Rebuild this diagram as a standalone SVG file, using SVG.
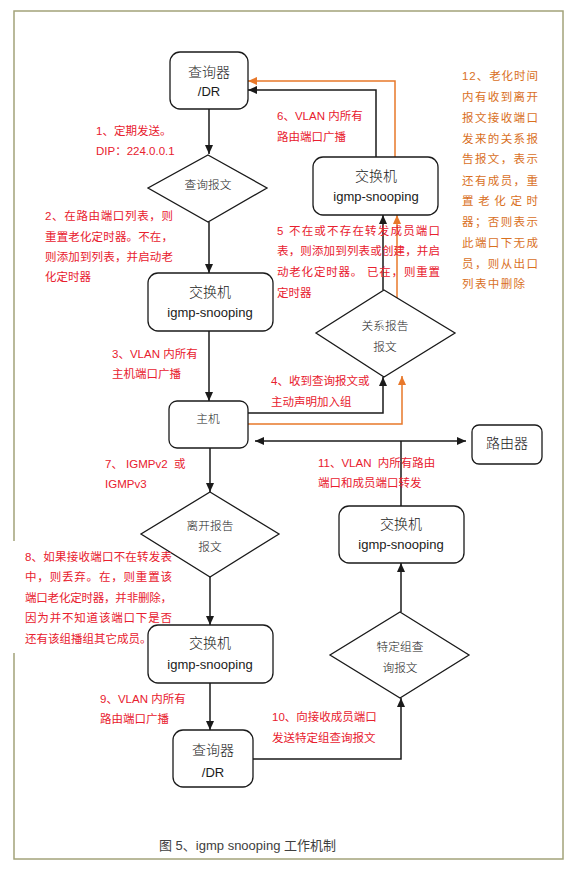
<svg xmlns="http://www.w3.org/2000/svg" width="573" height="869" viewBox="0 0 573 869">
<style>
.node rect{fill:#fff;stroke:#1a1a1a;stroke-width:1.3}
.node polygon{fill:#fff;stroke:#1a1a1a;stroke-width:1.3}
.nt{font-family:"Noto Sans CJK SC",sans-serif;font-size:14px;font-weight:300;fill:#1a1a1a;text-anchor:middle}
.nl{font-family:"Liberation Sans","Noto Sans CJK SC",sans-serif;font-size:13px;fill:#1a1a1a;text-anchor:middle}
.dt{font-family:"Noto Sans CJK SC",sans-serif;font-size:11.7px;font-weight:300;fill:#222;text-anchor:middle}
.lab{font-family:"Liberation Sans","Noto Sans CJK SC",sans-serif;font-size:11.5px;fill:#e8202e}
.or{font-family:"Liberation Sans","Noto Sans CJK SC",sans-serif;font-size:11.5px;fill:#d9701e}
.cap{font-family:"Liberation Sans","Noto Sans CJK SC",sans-serif;font-size:13px;fill:#404040}
.k{fill:none;stroke:#1a1a1a;stroke-width:1.5}
.o{fill:none;stroke:#e8782a;stroke-width:1.5}
</style>
<defs>
<marker id="ab" markerUnits="userSpaceOnUse" markerWidth="10" markerHeight="8" refX="9" refY="4" orient="auto-start-reverse"><path d="M0,0 L9,4 L0,8 z" fill="#1a1a1a"/></marker>
<marker id="ao" markerUnits="userSpaceOnUse" markerWidth="10" markerHeight="8" refX="9" refY="4" orient="auto"><path d="M0,0 L9,4 L0,8 z" fill="#e8782a"/></marker>
</defs>
<rect x="0" y="0" width="573" height="869" fill="#fff"/>
<rect id="frame" x="14" y="11" width="549" height="848" fill="none" stroke="#a3a37a" stroke-width="1.5"/>
<rect id="label8-bg" x="8" y="541" width="168" height="112" fill="#fff"/>

<g id="connectors">
<path class="k" d="M209,109 V154" marker-end="url(#ab)"/>
<path class="k" d="M209,222 V273" marker-end="url(#ab)"/>
<path class="k" d="M209,331 V401" marker-end="url(#ab)"/>
<path class="k" d="M248,413 H383 V377" marker-end="url(#ab)"/>
<path class="o" d="M248,424 H402 V376" marker-end="url(#ao)"/>
<path class="k" d="M383,290 V215" marker-end="url(#ab)"/>
<path class="o" d="M397,298 V215" marker-end="url(#ao)"/>
<path class="k" d="M376,157 V90 H248" marker-end="url(#ab)"/>
<path class="o" d="M395,157 V81 H248" marker-end="url(#ao)"/>
<path class="k" d="M255,441 H466" marker-start="url(#ab)" marker-end="url(#ab)"/>
<path class="k" d="M401,441 V506"/>
<path class="k" d="M401,612 V563" marker-end="url(#ab)"/>
<path class="k" d="M253,759 H401 V698" marker-end="url(#ab)"/>
<path class="k" d="M210,448 V492" marker-end="url(#ab)"/>
<path class="k" d="M210,577 V625" marker-end="url(#ab)"/>
<path class="k" d="M210,683 V730" marker-end="url(#ab)"/>
</g>

<g id="querier-top" class="node">
<rect x="170" y="52" width="78" height="57" rx="10"/>
<text class="nt" x="209" y="77">查询器</text>
<text class="nl" x="209" y="96" font-size="14">/DR</text>
</g>
<g id="query-msg" class="node">
<polygon points="208,155 267,188 208,222 148,188"/>
<text class="dt" x="208" y="189">查询报文</text>
</g>
<g id="switch-1" class="node">
<rect x="148" y="273" width="125" height="58" rx="10"/>
<text class="nt" x="210" y="297">交换机</text>
<text class="nl" x="210" y="317">igmp-snooping</text>
</g>
<g id="host" class="node">
<rect x="169" y="401" width="79" height="47" rx="8"/>
<text class="dt" x="208" y="423" font-size="12">主机</text>
</g>
<g id="report-msg" class="node">
<polygon points="384,290 455,333 384,377 316,333"/>
<text class="dt" x="385" y="330">关系报告</text>
<text class="dt" x="385" y="351">报文</text>
</g>
<g id="switch-2" class="node">
<rect x="313" y="157" width="125" height="58" rx="10"/>
<text class="nt" x="376" y="181">交换机</text>
<text class="nl" x="376" y="201">igmp-snooping</text>
</g>
<g id="router" class="node">
<rect x="472" y="425" width="70" height="39" rx="7"/>
<text class="nt" x="507" y="448">路由器</text>
</g>
<g id="leave-msg" class="node">
<polygon points="210,492 279,534 210,577 141,534"/>
<text class="dt" x="210" y="530">离开报告</text>
<text class="dt" x="210" y="551">报文</text>
</g>
<g id="switch-3" class="node">
<rect x="148" y="625" width="125" height="58" rx="10"/>
<text class="nt" x="210" y="648">交换机</text>
<text class="nl" x="210" y="669">igmp-snooping</text>
</g>
<g id="querier-bottom" class="node">
<rect x="173" y="730" width="80" height="57" rx="10"/>
<text class="nt" x="213" y="755">查询器</text>
<text class="nl" x="213" y="777" font-size="14">/DR</text>
</g>
<g id="switch-4" class="node">
<rect x="339" y="506" width="125" height="57" rx="10"/>
<text class="nt" x="401" y="529">交换机</text>
<text class="nl" x="401" y="549">igmp-snooping</text>
</g>
<g id="group-query" class="node">
<polygon points="400,612 469,655 400,698 330,655"/>
<text class="dt" x="400" y="651">特定组查</text>
<text class="dt" x="400" y="672">询报文</text>
</g>

<g id="labels">
<text class="lab" x="96" y="135">1、定期发送。</text>
<text class="lab" x="96" y="155">DIP：224.0.0.1</text>
<text class="lab" x="45" y="220" textLength="128" lengthAdjust="spacing">2、在路由端口列表，则</text>
<text class="lab" x="45" y="241" textLength="128" lengthAdjust="spacing">重置老化定时器。不在，</text>
<text class="lab" x="45" y="261" textLength="128" lengthAdjust="spacing">则添加到列表，并启动老</text>
<text class="lab" x="45" y="281">化定时器</text>
<text class="lab" x="112" y="358">3、VLAN 内所有</text>
<text class="lab" x="112" y="378">主机端口广播</text>
<text class="lab" x="271" y="385">4、收到查询报文或</text>
<text class="lab" x="271" y="406">主动声明加入组</text>
<text class="lab" x="277" y="235" textLength="163" lengthAdjust="spacing">5 不在或不存在转发成员端口</text>
<text class="lab" x="277" y="255" textLength="163" lengthAdjust="spacing">表，则添加到列表或创建，并启</text>
<text class="lab" x="277" y="276" textLength="163" lengthAdjust="spacing">动老化定时器。 已在，则重置</text>
<text class="lab" x="277" y="297">定时器</text>
<text class="lab" x="277" y="120">6、VLAN 内所有</text>
<text class="lab" x="277" y="141">路由端口广播</text>
<text class="lab" x="105" y="468" xml:space="preserve">7、 IGMPv2  或</text>
<text class="lab" x="105" y="488">IGMPv3</text>
<text class="lab" x="25" y="561" textLength="147" lengthAdjust="spacing">8、如果接收端口不在转发表</text>
<text class="lab" x="25" y="581" textLength="147" lengthAdjust="spacing">中，则丢弃。在，则重置该</text>
<text class="lab" x="25" y="602" textLength="147" lengthAdjust="spacing">端口老化定时器，并非删除，</text>
<text class="lab" x="25" y="622" textLength="147" lengthAdjust="spacing">因为并不知道该端口下是否</text>
<text class="lab" x="25" y="643">还有该组播组其它成员。</text>
<text class="lab" x="100" y="703">9、VLAN 内所有</text>
<text class="lab" x="100" y="723">路由端口广播</text>
<text class="lab" x="272" y="721">10、向接收成员端口</text>
<text class="lab" x="272" y="742">发送特定组查询报文</text>
<text class="lab" x="318" y="467" xml:space="preserve">11、VLAN  内所有路由</text>
<text class="lab" x="318" y="487">端口和成员端口转发</text>
<text class="or" x="462" y="80" textLength="76" lengthAdjust="spacing">12、老化时间</text>
<text class="or" x="462" y="101" textLength="76" lengthAdjust="spacing">内有收到离开</text>
<text class="or" x="462" y="122" textLength="76" lengthAdjust="spacing">报文接收端口</text>
<text class="or" x="462" y="143" textLength="76" lengthAdjust="spacing">发来的关系报</text>
<text class="or" x="462" y="163" textLength="76" lengthAdjust="spacing">告报文，表示</text>
<text class="or" x="462" y="185" textLength="76" lengthAdjust="spacing">还有成员，重</text>
<text class="or" x="462" y="205" textLength="76" lengthAdjust="spacing">置老化定时</text>
<text class="or" x="462" y="226" textLength="76" lengthAdjust="spacing">器；否则表示</text>
<text class="or" x="462" y="247" textLength="76" lengthAdjust="spacing">此端口下无成</text>
<text class="or" x="462" y="268" textLength="76" lengthAdjust="spacing">员，则从出口</text>
<text class="or" x="462" y="288" textLength="63" lengthAdjust="spacing">列表中删除</text>
<text class="cap" x="159" y="850">图 5、igmp snooping 工作机制</text>
</g>
</svg>
